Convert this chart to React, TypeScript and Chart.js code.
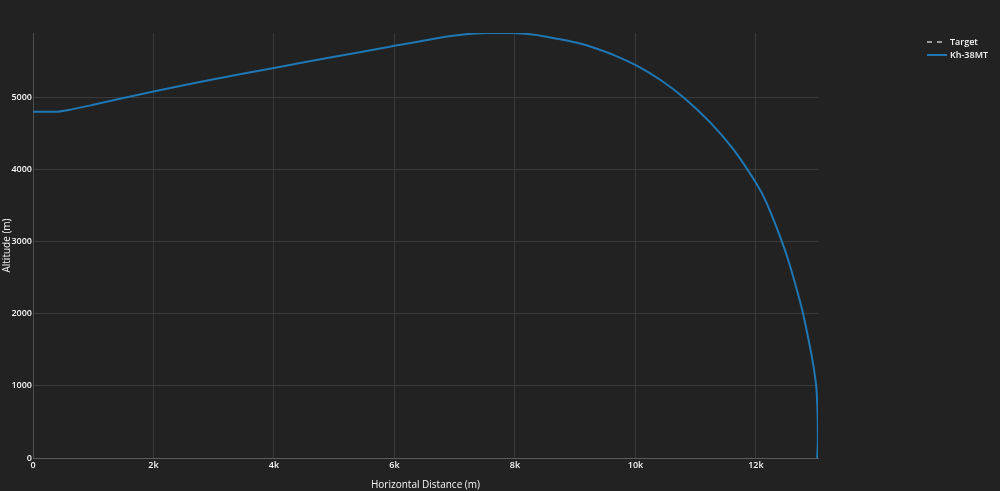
import React, { useEffect, useRef } from "react";
import { Chart, registerables } from "chart.js";

Chart.register(...registerables);

const missileX = [0, 420, 610, 1000, 2000, 3000, 4000, 5000, 5760, 6000, 6500, 6870, 7150, 7420, 7700, 7970, 8250, 8500, 8750, 9080, 9300, 9660, 10020, 10410, 10790, 11240, 11620, 12010, 12180, 12430, 12560, 12730, 12790, 12920, 13000, 13020, 13027, 13025, 13015];
const missileY = [4800, 4800, 4825, 4895, 5080, 5248, 5406, 5560, 5675, 5712, 5785, 5840, 5870, 5887, 5893, 5890, 5872, 5843, 5803, 5744, 5689, 5577, 5437, 5242, 5003, 4652, 4283, 3800, 3528, 3003, 2678, 2176, 1972, 1439, 999, 700, 400, 150, 0];
const targetX: number[] = [];
const targetY: number[] = [];
const xTicks = [0, 2000, 4000, 6000, 8000, 10000, 12000];
const yTicks = [0, 1000, 2000, 3000, 4000, 5000];
const seriesNames = ["Target", "Kh-38MT"];

const FONT = "'Open Sans', 'DejaVu Sans', sans-serif";
const TEXT = "#f5f5f5";

const legendPlugin = {
  id: "customLegend",
  afterDraw(chart: any) {
    const ctx = chart.ctx;
    const ds = chart.data.datasets;
    ctx.save();
    ds.forEach((d: any, i: number) => {
      const y = 42 + i * 13;
      ctx.beginPath();
      ctx.strokeStyle = d.borderColor;
      ctx.lineWidth = 2;
      ctx.setLineDash(d.borderDash || []);
      ctx.moveTo(927, y);
      ctx.lineTo(947, y);
      ctx.stroke();
      ctx.setLineDash([]);
      ctx.fillStyle = TEXT;
      ctx.font = `600 9px ${FONT}`;
      ctx.textBaseline = "middle";
      ctx.textAlign = "left";
      ctx.fillText(d.label, 950, y);
    });
    ctx.restore();
  },
};

export default function App() {
  const ref = useRef<HTMLCanvasElement>(null);
  useEffect(() => {
    document.body.style.margin = "0";
    document.body.style.background = "#222222";
    const chart = new Chart(ref.current!, {
      type: "line",
      data: {
        datasets: [
          {
            label: seriesNames[0],
            data: targetX.map((x, i) => ({ x, y: targetY[i] })),
            borderColor: "#9a9a9a",
            borderDash: [5, 5],
            borderWidth: 2,
            pointRadius: 0,
          },
          {
            label: seriesNames[1],
            data: missileX.map((x, i) => ({ x, y: missileY[i] })),
            borderColor: "#1f77b4",
            borderWidth: 2,
            pointRadius: 0,
            tension: 0.25,
          },
        ],
      },
      options: {
        animation: false,
        responsive: true,
        maintainAspectRatio: false,
        layout: { padding: { top: 33, right: 182, left: 0, bottom: 0 } },
        plugins: { legend: { display: false }, tooltip: { enabled: false } },
        scales: {
          x: {
            type: "linear",
            min: 0,
            max: 13030,
            afterFit: (s: any) => { s.height = 33; },
            afterBuildTicks: (s: any) => { s.ticks = xTicks.map((v) => ({ value: v })); },
            grid: { color: "#3a3a3a", drawTicks: false, lineWidth: 1 },
            border: { color: "#5c5c5c", width: 1 },
            ticks: {
              color: TEXT,
              font: { family: FONT, size: 9, weight: "600" },
              padding: 2,
              maxRotation: 0,
              callback: (v: any) => (v === 0 ? "0" : v / 1000 + "k"),
            },
            title: {
              display: true,
              text: "Horizontal Distance (m)",
              color: TEXT,
              font: { family: FONT, size: 10 },
              padding: { top: 0, bottom: 0 },
            },
          },
          y: {
            type: "linear",
            min: 0,
            max: 5890,
            afterFit: (s: any) => { s.width = 33; },
            afterBuildTicks: (s: any) => { s.ticks = yTicks.map((v) => ({ value: v })); },
            grid: { color: "#3a3a3a", drawTicks: false, lineWidth: 1 },
            border: { color: "#4e4e4e", width: 1 },
            ticks: {
              color: TEXT,
              font: { family: FONT, size: 9, weight: "600" },
              padding: 1,
              callback: (v: any) => String(v),
            },
            title: {
              display: true,
              text: "Altitude (m)",
              color: TEXT,
              font: { family: FONT, size: 10 },
              padding: { top: 1, bottom: 0 },
            },
          },
        },
      },
      plugins: [legendPlugin],
    });
    return () => chart.destroy();
  }, []);
  return (
    <div style={{ width: 1000, height: 491, position: "relative", background: "#222222" }}>
      <canvas ref={ref} />
    </div>
  );
}
